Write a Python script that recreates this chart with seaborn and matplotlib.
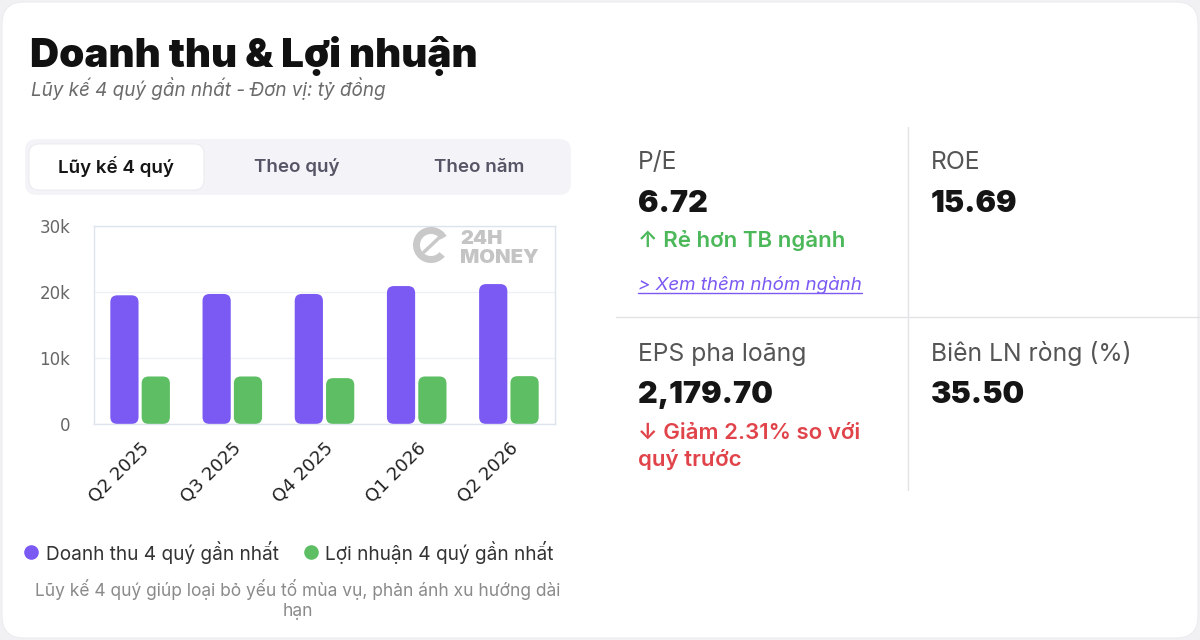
import numpy as np
import pandas as pd
import matplotlib
matplotlib.use("Agg")
import matplotlib.pyplot as plt
import seaborn as sns
from matplotlib.patches import FancyBboxPatch, Wedge

# Data
quarters = ["Q2 2025", "Q3 2025", "Q4 2025", "Q1 2026", "Q2 2026"]
revenue = [19500, 19700, 19700, 20900, 21200]
profit = [7200, 7200, 6950, 7200, 7250]
series_names = ["Doanh thu 4 quý gần nhất", "Lợi nhuận 4 quý gần nhất"]
y_ticks = [0, 10000, 20000, 30000]
y_tick_labels = ["0", "10k", "20k", "30k"]
tabs = ["Lũy kế 4 quý", "Theo quý", "Theo năm"]

PURPLE = "#7B59F3"
GREEN = "#5DBE63"

df = pd.DataFrame({
    "quarter": quarters * 2,
    "value": revenue + profit,
    "series": [series_names[0]] * len(quarters) + [series_names[1]] * len(quarters),
})

sns.set_theme(style="white")
plt.rcParams["font.family"] = ["Inter", "DejaVu Sans"]

fig = plt.figure(figsize=(12, 6.4), dpi=100)
fig.patch.set_facecolor("#f1f1f4")


def px_axes(z):
    # axes covering the whole figure, pixel coords with origin top-left
    a = fig.add_axes([0, 0, 1, 1])
    a.set_xlim(0, 1200)
    a.set_ylim(640, 0)
    a.axis("off")
    a.set_zorder(z)
    a.patch.set_visible(False)
    return a


bg = px_axes(0)
top = px_axes(2)

bg.add_patch(FancyBboxPatch((2, 2), 1196, 636, boxstyle="round,pad=0,rounding_size=22",
                            fc="white", ec="#ececf0", lw=0.8))

# header
bg.text(30, 67, "Doanh thu & Lợi nhuận", fontsize=29, fontweight="black",
        color="#111111", va="baseline")
bg.text(31, 96, "Lũy kế 4 quý gần nhất - Đơn vị: tỷ đồng", fontsize=13.6,
        style="italic", color="#6b6b6b", va="baseline")

# tab switcher
bg.add_patch(FancyBboxPatch((25, 139), 546, 56, boxstyle="round,pad=0,rounding_size=12",
                            fc="#f3f3f8", ec="none"))
bg.add_patch(FancyBboxPatch((29, 144), 175, 46, boxstyle="round,pad=0,rounding_size=10",
                            fc="white", ec="#e8e8ee", lw=0.6))
for label, cx, col in zip(tabs, [116, 297, 479], ["#151515", "#555566", "#555566"]):
    bg.text(cx, 167, label, fontsize=13.5, fontweight="semibold", color=col,
            ha="center", va="center")

# chart
ax = fig.add_axes([94 / 1200, (640 - 424) / 640, (555 - 94) / 1200, (424 - 226) / 640])
ax.set_zorder(1)
sns.barplot(data=df, x="quarter", y="value", hue="series", order=quarters,
            hue_order=series_names, palette=[PURPLE, GREEN], width=0.68, gap=0.1,
            saturation=1, legend=False, ax=ax)
ax.set_xlim(-0.5, len(quarters) - 0.5)
ax.set_ylim(0, 30000)
ax.set_yticks(y_ticks)
ax.set_yticklabels(y_tick_labels, family="DejaVu Sans")
ax.set_xticks(range(len(quarters)))
ax.set_xticklabels(quarters, family="DejaVu Sans")
ax.set_xlabel("")
ax.set_ylabel("")
ax.grid(axis="y", color="#eef0f5", lw=1)
ax.set_axisbelow(True)
for s in ax.spines.values():
    s.set_color("#dde4ee")
    s.set_linewidth(1)
ax.tick_params(axis="y", length=0, pad=17, labelsize=12, labelcolor="#666666")
ax.tick_params(axis="x", length=0, pad=11, labelsize=13, labelcolor="#222222")
plt.setp(ax.get_xticklabels(), rotation=45, ha="right", rotation_mode="anchor")

# round the bar corners
fig.canvas.draw()
bbox = ax.get_window_extent()
x_per_px = (ax.get_xlim()[1] - ax.get_xlim()[0]) / bbox.width
y_per_px = (ax.get_ylim()[1] - ax.get_ylim()[0]) / bbox.height
radius_px = 7
for p in list(ax.patches):
    x, y, w, h = p.get_x(), p.get_y(), p.get_width(), p.get_height()
    fc = p.get_facecolor()
    p.remove()
    ax.add_patch(FancyBboxPatch((x, y), w, h,
                                boxstyle=f"round,pad=0,rounding_size={radius_px * x_per_px}",
                                mutation_aspect=y_per_px / x_per_px,
                                fc=fc, ec="none", zorder=2))

# watermark
top.add_patch(Wedge((431, 245), 18, 40, 330, width=7, fc="#c9c9c9", ec="none"))
top.plot([424, 441], [252, 236], color="#c9c9c9", lw=2.5)
top.text(460, 244, "24H", fontsize=14.5, fontweight="black", color="#c4c4c4", va="baseline")
top.text(460, 263, "MONEY", fontsize=14.5, fontweight="black", color="#c4c4c4", va="baseline")

# legend
bg.scatter([31], [552], s=90, color=PURPLE, zorder=3)
bg.text(46, 552, series_names[0], fontsize=13.7, color="#333333", va="center")
bg.scatter([311], [552], s=90, color=GREEN, zorder=3)
bg.text(325, 552, series_names[1], fontsize=13.7, color="#333333", va="center")

# footnote
bg.text(298, 590, "Lũy kế 4 quý giúp loại bỏ yếu tố mùa vụ, phản ánh xu hướng dài",
        fontsize=12.5, color="#8a8a8a", ha="center", va="center")
bg.text(298, 611, "hạn", fontsize=12.5, color="#8a8a8a", ha="center", va="center")

# metrics panel
bg.plot([908, 908], [127, 490], color="#e3e3e6", lw=1)
bg.plot([616, 1200], [317, 317], color="#e3e3e6", lw=1)

label_kw = dict(fontsize=17.8, color="#555555", va="baseline")
value_kw = dict(fontsize=22, fontweight="black", color="#151515", va="baseline")
note_kw = dict(fontsize=16, fontweight="semibold", va="baseline")

bg.text(638, 169, "P/E", **label_kw)
bg.text(638, 212, "6.72", **value_kw)
bg.text(638, 247, "↑ Rẻ hơn TB ngành", color="#4CB85A", **note_kw)
bg.text(638, 290, "> Xem thêm nhóm ngành", fontsize=13.5, style="italic",
        color="#7B59F3", va="baseline")
bg.plot([638, 862], [293, 293], color="#7B59F3", lw=1)

bg.text(931, 169, "ROE", **label_kw)
bg.text(931, 212, "15.69", **value_kw)

bg.text(638, 361, "EPS pha loãng", **label_kw)
bg.text(638, 403, "2,179.70", **value_kw)
bg.text(638, 439, "↓ Giảm 2.31% so với", color="#E0444A", **note_kw)
bg.text(638, 466, "quý trước", color="#E0444A", **note_kw)

bg.text(931, 361, "Biên LN ròng (%)", **label_kw)
bg.text(931, 403, "35.50", **value_kw)

fig.savefig("out.png", dpi=100, facecolor=fig.get_facecolor())
